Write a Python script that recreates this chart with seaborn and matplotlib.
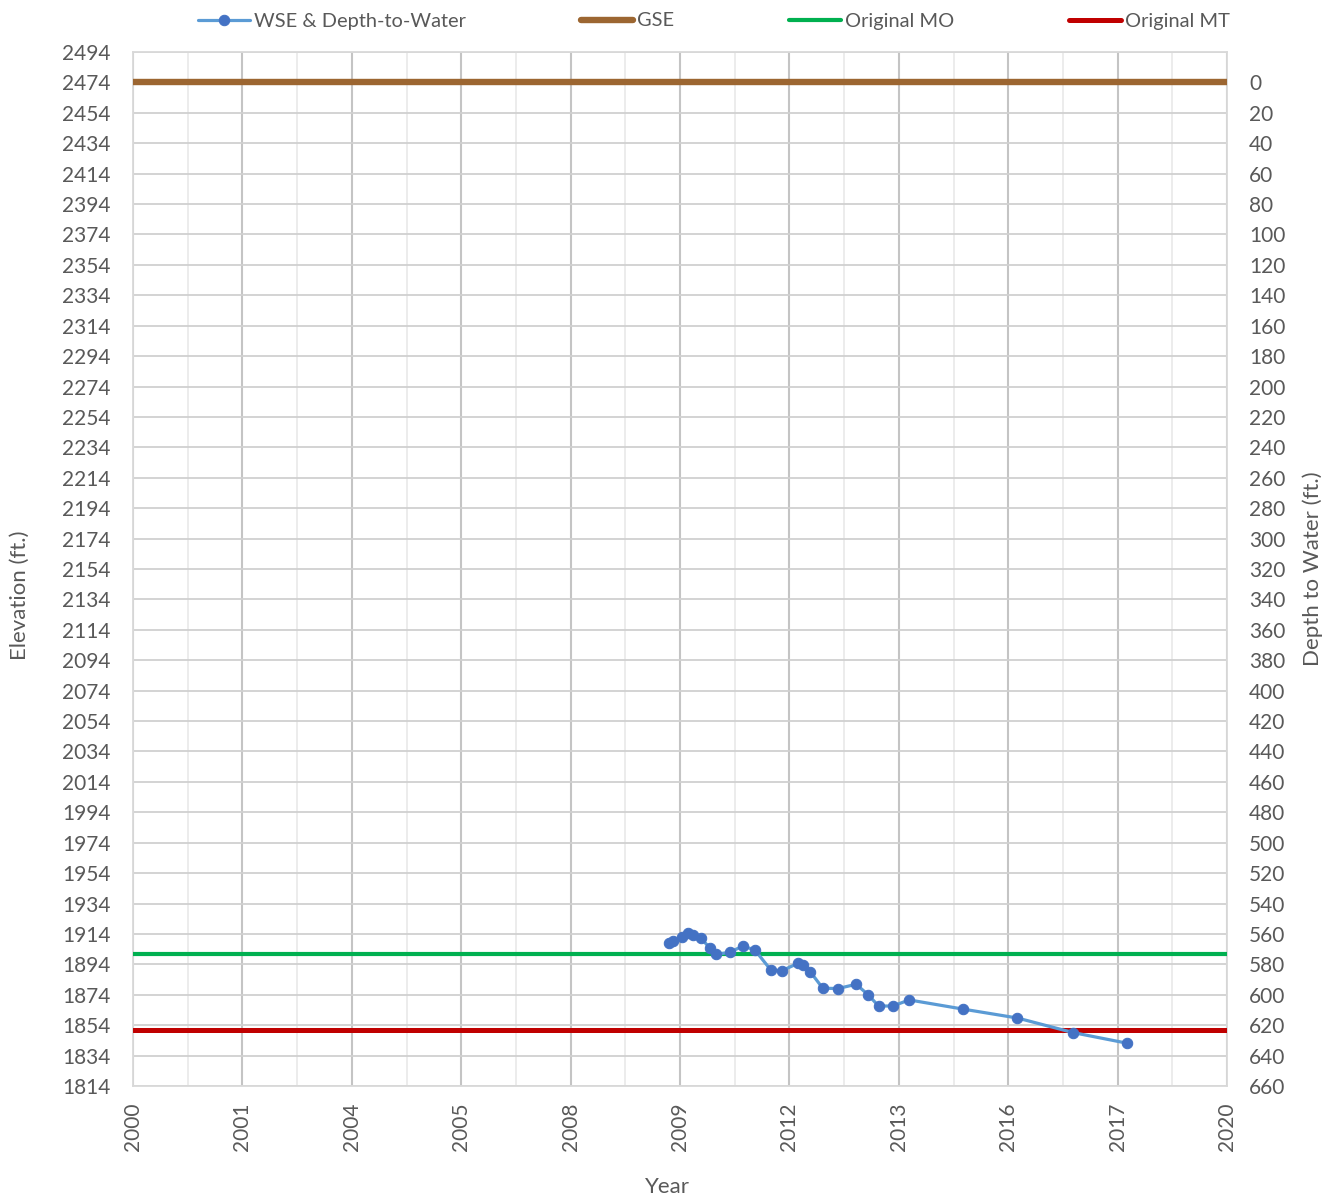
import matplotlib
matplotlib.use("Agg")
import matplotlib.pyplot as plt
import numpy as np
import pandas as pd
import seaborn as sns

# Measured water-surface elevations (decimal year, ft)
obs_year = [2009.80, 2009.88, 2010.03, 2010.15, 2010.24, 2010.38, 2010.54, 2010.66,
            2010.91, 2011.15, 2011.37, 2011.66, 2011.86, 2012.16, 2012.24, 2012.38,
            2012.61, 2012.89, 2013.22, 2013.44, 2013.63, 2013.89, 2014.19, 2015.17,
            2016.17, 2017.19, 2018.18]
obs_wse = [1908.2, 1909.4, 1911.8, 1914.4, 1913.3, 1911.3, 1905.0, 1900.6,
           1901.9, 1906.1, 1903.4, 1890.3, 1889.8, 1894.7, 1893.6, 1889.2,
           1878.3, 1878.1, 1880.9, 1874.0, 1866.6, 1866.6, 1870.6, 1864.6,
           1858.7, 1849.1, 1842.1]

gse_elev = 2474          # ground surface elevation
mo_elev = 1901           # original measurable objective
mt_elev = 1851           # original minimum threshold

elev_ticks = list(range(1814, 2495, 20))
depth_ticks = list(range(0, 661, 20))
year_ticks = list(range(2000, 2021, 2))
year_labels = ["2000", "2001", "2004", "2005", "2008", "2009",
               "2012", "2013", "2016", "2017", "2020"]

sns.set_theme(style="white")
plt.rcParams["font.family"] = ["Lato", "DejaVu Sans"]
text_col = "#595959"
tick_size = 15
title_size = 16

fig = plt.figure(figsize=(13.25, 12.01), dpi=100)
ax = fig.add_axes([133 / 1325, 1 - 1086 / 1201, (1227 - 133) / 1325, (1086 - 52) / 1201])

df = pd.DataFrame({"year": obs_year, "wse": obs_wse})

ax.axhline(gse_elev, color="#9C6631", lw=4.6, label="GSE", zorder=3)
ax.axhline(mo_elev, color="#00B050", lw=3.0, label="Original MO", zorder=3)
ax.axhline(mt_elev, color="#C00000", lw=3.6, label="Original MT", zorder=3)
sns.lineplot(data=df, x="year", y="wse", ax=ax, color="#5B9BD5", lw=2.3,
             marker="o", markersize=7.5, markerfacecolor="#4472C4",
             markeredgecolor="#4472C4", label="WSE & Depth-to-Water", zorder=4)

ax.set_xlim(2000, 2020)
ax.set_ylim(1814, 2494)
ax.set_yticks(elev_ticks)
ax.set_xticks(year_ticks)
ax.set_xticklabels(year_labels, rotation=90)
ax.set_xticks(range(2001, 2020, 2), minor=True)

ax.grid(True, which="major", axis="y", color="#D0D0D0", lw=1.3)
ax.grid(True, which="major", axis="x", color="#C4C4C4", lw=1.5)
ax.grid(True, which="minor", axis="x", color="#EBEBEB", lw=1.3)
ax.set_axisbelow(True)
for side in ["left", "bottom", "top", "right"]:
    ax.spines[side].set_color("#D9D9D9")
    ax.spines[side].set_linewidth(1.3)
ax.tick_params(axis="y", which="both", length=0, labelsize=tick_size,
               labelcolor=text_col, pad=16)
ax.tick_params(axis="x", which="both", length=0, labelsize=tick_size,
               labelcolor=text_col, pad=12)

ax.set_xlabel("Year", fontsize=title_size, color=text_col)
ax.set_ylabel("Elevation (ft.)", fontsize=title_size, color=text_col)
ax.xaxis.set_label_coords(0.489, -0.088)
ax.yaxis.set_label_coords(-0.094, 0.475)

ax2 = ax.twinx()
ax2.set_ylim(gse_elev - 1814, gse_elev - 2494)
ax2.set_yticks(depth_ticks)
ax2.tick_params(axis="y", length=0, labelsize=tick_size, labelcolor=text_col, pad=16)
ax2.set_ylabel("Depth to Water (ft.)", fontsize=title_size, color=text_col)
ax2.yaxis.set_label_coords(1.0686, 0.5)
for side in ["left", "bottom", "top", "right"]:
    ax2.spines[side].set_visible(False)
ax2.grid(False)

handles, labels = ax.get_legend_handles_labels()
order = [labels.index(n) for n in ["WSE & Depth-to-Water", "GSE", "Original MO", "Original MT"]]
if ax.get_legend() is not None:
    ax.get_legend().remove()
leg = fig.legend([handles[i] for i in order], [labels[i] for i in order],
                 loc="center", bbox_to_anchor=(714 / 1325, 1 - 21 / 1201),
                 ncol=4, frameon=False, fontsize=14.4, handlelength=2.6,
                 handletextpad=0.2, columnspacing=5.75)
for t in leg.get_texts():
    t.set_color(text_col)

fig.savefig("out.png", dpi=100)
